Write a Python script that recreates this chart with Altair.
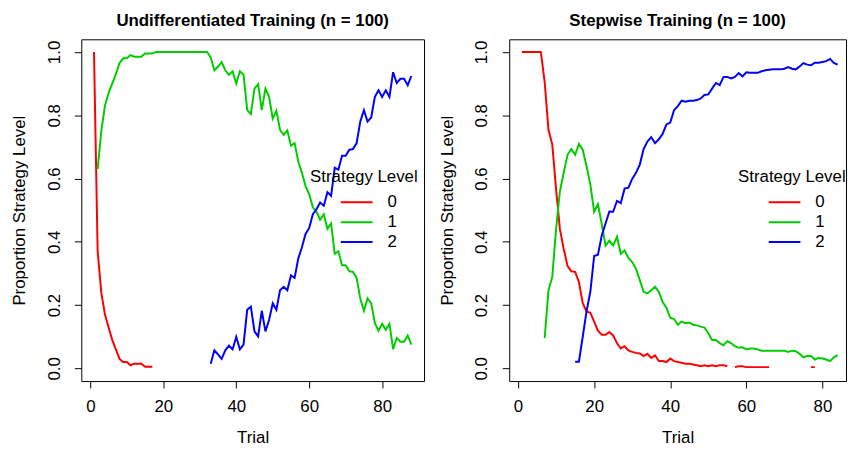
import altair as alt
import pandas as pd

N = None

# ---------------- Undifferentiated Training (left panel) ----------------
trials_left = list(range(1, 89))
red_left = [1.0, 0.37, 0.24, 0.17, 0.13, 0.09, 0.06, 0.03, 0.02, 0.02,
            0.01, 0.015, 0.015, 0.015, 0.005, 0.005, 0.005] + [N] * 71
green_left = [N, 0.63, 0.75, 0.83, 0.87, 0.90, 0.93, 0.965, 0.98, 0.98,
              0.99, 0.985, 0.985, 0.985, 0.995, 0.995, 0.995] + [1.0] * 15 + [
              0.983, 0.942, 0.954, 0.968, 0.942, 0.928, 0.939, 0.90, 0.939, 0.928,
              0.816, 0.804, 0.884, 0.898, 0.816, 0.884, 0.858, 0.790, 0.814, 0.754,
              0.738, 0.752, 0.704, 0.712, 0.654, 0.618, 0.576, 0.550, 0.509, 0.495,
              0.470, 0.487, 0.441, 0.458, 0.362, 0.370, 0.326, 0.326, 0.307, 0.305,
              0.286, 0.221, 0.182, 0.221, 0.206, 0.143, 0.119, 0.141, 0.122, 0.141,
              0.061, 0.096, 0.084, 0.084, 0.104, 0.075]
blue_left = [N] * 32 + [
             0.015, 0.057, 0.044, 0.03, 0.057, 0.072, 0.06, 0.10, 0.06, 0.075,
             0.185, 0.195, 0.117, 0.101, 0.182, 0.117, 0.153, 0.206, 0.185, 0.247,
             0.258, 0.247, 0.294, 0.286, 0.347, 0.383, 0.425, 0.444, 0.487, 0.503,
             0.524, 0.514, 0.557, 0.545, 0.634, 0.628, 0.672, 0.672, 0.691, 0.693,
             0.712, 0.780, 0.816, 0.780, 0.793, 0.858, 0.879, 0.858, 0.879, 0.858,
             0.936, 0.902, 0.915, 0.915, 0.895, 0.924]

# ---------------- Stepwise Training (right panel) ----------------
trials_right = list(range(1, 85))
red_right = [1.0, 1.0, 1.0, 1.0, 1.0, 1.0, 0.905, 0.754, 0.707, 0.566,
             0.44, 0.378, 0.324, 0.307, 0.305, 0.273, 0.206, 0.18, 0.176, 0.148,
             0.119, 0.106, 0.106, 0.115, 0.104, 0.08, 0.063, 0.07, 0.057, 0.052,
             0.049, 0.047, 0.039, 0.046, 0.033, 0.041, 0.023, 0.023, 0.02, 0.031,
             0.023, 0.02, 0.018, 0.015, 0.015, 0.0125, 0.01, 0.007, 0.01, 0.007,
             0.01, 0.007, 0.01, 0.01, 0.007, N, 0.004, 0.007, 0.007, 0.004,
             0.004, 0.004, 0.004, 0.004, 0.004, 0.004, N, N, N, N,
             N, N, N, N, N, N, 0.004, 0.004, N, N,
             N, N, N, N]
green_right = [N, N, N, N, N, N, 0.096, 0.247, 0.289, 0.44,
               0.56, 0.618, 0.675, 0.693, 0.675, 0.709, 0.691, 0.639, 0.581, 0.495,
               0.519, 0.456, 0.388, 0.404, 0.388, 0.416, 0.362, 0.373, 0.349, 0.336,
               0.315, 0.279, 0.242, 0.237, 0.247, 0.258, 0.242, 0.21, 0.192, 0.16,
               0.156, 0.138, 0.148, 0.143, 0.145, 0.138, 0.136, 0.132, 0.129, 0.111,
               0.09, 0.09, 0.08, 0.073, 0.086, 0.08, 0.07, 0.065, 0.067, 0.06,
               0.063, 0.063, 0.06, 0.056, 0.056, 0.056, 0.056, 0.056, 0.056, 0.056,
               0.052, 0.056, 0.054, 0.046, 0.035, 0.039, 0.039, 0.028, 0.033, 0.031,
               0.028, 0.023, 0.035, 0.042]
blue_right = [N] * 14 + [
              0.021, 0.021, 0.10, 0.18, 0.242, 0.355,
              0.359, 0.42, 0.458, 0.496, 0.495, 0.529, 0.522, 0.568, 0.571, 0.599,
              0.618, 0.644, 0.693, 0.717, 0.731, 0.712, 0.724, 0.741, 0.771, 0.777,
              0.816, 0.829, 0.846, 0.843, 0.846, 0.846, 0.848, 0.853, 0.864, 0.866,
              0.884, 0.902, 0.895, 0.921, 0.921, 0.916, 0.921, 0.933, 0.923, 0.936,
              0.934, 0.934, 0.934, 0.939, 0.942, 0.944, 0.945, 0.945, 0.945, 0.947,
              0.952, 0.947, 0.945, 0.954, 0.965, 0.96, 0.958, 0.966, 0.966, 0.968,
              0.971, 0.978, 0.965, 0.96]

levels = ["0", "1", "2"]
level_colors = ["#FF0000", "#00CD00", "#0000FF"]
x_ticks = [0, 20, 40, 60, 80]
y_ticks = [0.0, 0.2, 0.4, 0.6, 0.8, 1.0]

FONT = "Liberation Sans"


def to_long(trials, series):
    rows = []
    for level, vals in zip(levels, series):
        seg = 0
        gap = True
        for t, v in zip(trials, vals):
            if v is None:
                gap = True
                continue
            if gap:
                seg += 1
            gap = False
            rows.append({"Trial": t, "Level": level, "Proportion": v,
                         "seg": f"{level}-{seg}"})
    return pd.DataFrame(rows)


def panel(df, title, x_domain, width):
    return alt.Chart(df).mark_line(strokeWidth=2, clip=True).encode(
        x=alt.X("Trial:Q",
                scale=alt.Scale(domain=x_domain, nice=False, zero=False),
                axis=alt.Axis(values=x_ticks, title="Trial", format="d")),
        y=alt.Y("Proportion:Q",
                scale=alt.Scale(domain=[-0.04, 1.04], nice=False, zero=False),
                axis=alt.Axis(values=y_ticks, title="Proportion Strategy Level",
                              format=".1f", labelAngle=270, labelAlign="center",
                              labelBaseline="bottom")),
        color=alt.Color("Level:N",
                        scale=alt.Scale(domain=levels, range=level_colors),
                        legend=alt.Legend(
                            orient="none", legendX=231, legendY=131,
                            title="Strategy Level", titleFont=FONT,
                            titleFontSize=17, titleFontWeight="normal",
                            titleColor="black", titlePadding=8,
                            labelFont=FONT, labelFontSize=17, labelColor="black",
                            symbolType="stroke", symbolSize=1024,
                            symbolStrokeWidth=2, symbolOffset=30,
                            labelOffset=14, clipHeight=17, rowPadding=2.1,
                            padding=0)),
        detail="seg:N",
        order="Trial:Q",
    ).properties(
        width=width, height=345,
        title=alt.Title(title, fontSize=17, fontWeight="bold", font=FONT,
                        color="black", anchor="middle", baseline="alphabetic",
                        offset=-3.5),
    )


left = panel(to_long(trials_left, [red_left, green_left, blue_left]),
             "Undifferentiated Training (n = 100)", [-2.48, 91.48], 346)
right = panel(to_long(trials_right, [red_right, green_right, blue_right]),
              "Stepwise Training (n = 100)", [-2.32, 86.2], 340)

chart = alt.hconcat(left, right, spacing=13).resolve_scale(
    color="independent"
).resolve_legend(color="independent").properties(
    padding={"left": 2, "top": 1.5, "right": 0, "bottom": 0},
    background="white",
).configure_view(
    stroke="black", strokeWidth=1
).configure_axis(
    grid=False, domain=False, tickColor="black", tickSize=7, tickWidth=1,
    labelFont=FONT, labelFontSize=17, labelColor="black",
    titleFont=FONT, titleFontSize=17, titleFontWeight="normal", titleColor="black",
).configure_axisX(
    labelPadding=11, titlePadding=15
).configure_axisY(
    labelPadding=11.5, titlePadding=17
)

chart.save("out.html", embed_options={"renderer": "svg", "actions": False})
